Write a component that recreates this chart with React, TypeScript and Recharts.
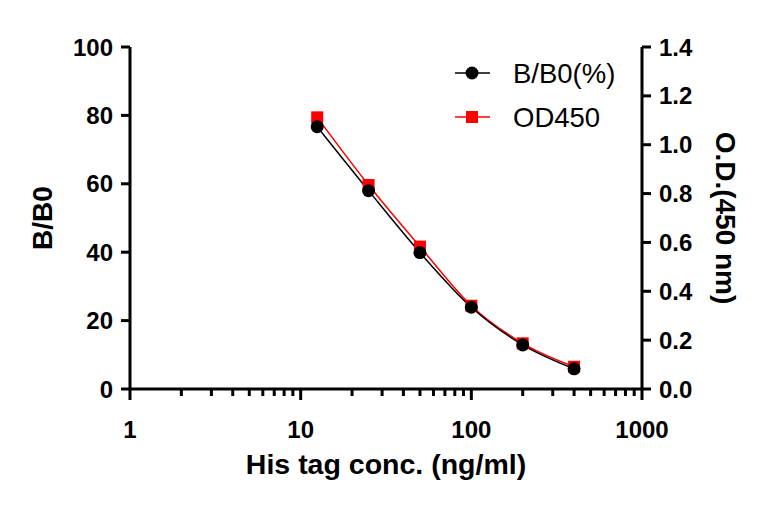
import React from "react";
import { LineChart, Line, XAxis, YAxis, Legend } from "recharts";

// His tag conc. (ng/ml)
const conc = [12.5, 25, 50, 100, 200, 400];
// B/B0 (%)
const bb0 = [76.7, 58.0, 39.9, 23.9, 12.9, 5.9];
// O.D. 450 nm
const od450 = [1.112, 0.835, 0.583, 0.341, 0.187, 0.091];

const xTicks = [
  1, 2, 3, 4, 5, 6, 7, 8, 9,
  10, 20, 30, 40, 50, 60, 70, 80, 90,
  100, 200, 300, 400, 500, 600, 700, 800, 900,
  1000,
];
const xMajor = [1, 10, 100, 1000];
const leftTicks = [0, 20, 40, 60, 80, 100];
const rightTicks = [0, 0.2, 0.4, 0.6, 0.8, 1.0, 1.2, 1.4];

const legendItems = [
  { name: "B/B0(%)", color: "#000000", shape: "circle" },
  { name: "OD450", color: "#ff0000", shape: "square" },
];

const data = conc.map((c, i) => ({ conc: c, bb0: bb0[i], od: od450[i] }));

const FONT = '"Liberation Sans", Arial, Helvetica, sans-serif';

const tickStyle = {
  fontSize: 24,
  fontWeight: "bold" as const,
  fill: "#000",
  fontFamily: FONT,
};

function XTick(props: any) {
  const { x, y, payload } = props;
  const v = payload.value;
  const major = xMajor.includes(v);
  return (
    <g>
      <line
        x1={x}
        x2={x}
        y1={y}
        y2={y + (major ? 11 : 7)}
        stroke="#000"
        strokeWidth={3}
      />
      {major && (
        <text x={x} y={y + 49} textAnchor="middle" {...tickStyle}>
          {v}
        </text>
      )}
    </g>
  );
}

function CircleDot(props: any) {
  const { cx, cy } = props;
  return <circle cx={cx} cy={cy} r={6.5} fill="#000" />;
}

function SquareDot(props: any) {
  const { cx, cy } = props;
  return <rect x={cx - 6} y={cy - 6} width={12} height={12} fill="#ff0000" />;
}

function renderLegend() {
  return (
    <svg width={220} height={90}>
      {legendItems.map((item, i) => {
        const cy = 20 + i * 44;
        return (
          <g key={item.name}>
            <line x1={0} x2={35} y1={cy} y2={cy} stroke={item.color} strokeWidth={1.5} />
            {item.shape === "circle" ? (
              <circle cx={17} cy={cy} r={6.5} fill={item.color} />
            ) : (
              <rect x={11} y={cy - 6} width={12} height={12} fill={item.color} />
            )}
            <text x={58} y={cy + 10} fontSize={27.5} fontFamily={FONT} fill="#000">
              {item.name}
            </text>
          </g>
        );
      })}
    </svg>
  );
}

export default function App() {
  return (
    <LineChart
      width={762}
      height={499}
      data={data}
      margin={{ top: 39, right: 0, left: 0, bottom: 0 }}
    >
      <XAxis
        dataKey="conc"
        type="number"
        scale="log"
        domain={[1, 1000]}
        ticks={xTicks}
        interval={0}
        height={118}
        tickSize={0}
        tickMargin={0}
        tickLine={false}
        axisLine={{ stroke: "#000", strokeWidth: 3 }}
        tick={<XTick />}
        label={{
          content: (p: any) => {
            const vb = p.viewBox;
            return (
              <text
                x={vb.x + vb.width / 2}
                y={vb.y + 85}
                textAnchor="middle"
                fontSize={28.5}
                fontWeight="bold"
                fontFamily={FONT}
                fill="#000"
              >
                His tag conc. (ng/ml)
              </text>
            );
          },
        }}
      />
      <YAxis
        yAxisId="left"
        orientation="left"
        width={122}
        domain={[0, 100]}
        ticks={leftTicks}
        interval={0}
        tickSize={9}
        tickMargin={8}
        axisLine={{ stroke: "#000", strokeWidth: 3 }}
        tickLine={{ stroke: "#000", strokeWidth: 3 }}
        tick={tickStyle}
        label={{
          content: (p: any) => {
            const vb = p.viewBox;
            const cx = vb.x + 34;
            const cy = vb.y + vb.height / 2;
            return (
              <text
                x={cx}
                y={cy}
                transform={`rotate(-90 ${cx} ${cy})`}
                textAnchor="middle"
                dominantBaseline="central"
                fontSize={28}
                fontWeight="bold"
                fontFamily={FONT}
                fill="#000"
              >
                B/B0
              </text>
            );
          },
        }}
      />
      <YAxis
        yAxisId="right"
        orientation="right"
        width={128}
        domain={[0, 1.4]}
        ticks={rightTicks}
        interval={0}
        tickSize={9}
        tickMargin={8}
        tickFormatter={(v: number) => v.toFixed(1)}
        axisLine={{ stroke: "#000", strokeWidth: 3 }}
        tickLine={{ stroke: "#000", strokeWidth: 3 }}
        tick={tickStyle}
        label={{
          content: (p: any) => {
            const vb = p.viewBox;
            const cx = vb.x + 83;
            const cy = vb.y + vb.height / 2;
            return (
              <text
                x={cx}
                y={cy}
                transform={`rotate(90 ${cx} ${cy})`}
                textAnchor="middle"
                dominantBaseline="central"
                fontSize={28}
                fontWeight="bold"
                fontFamily={FONT}
                fill="#000"
              >
                O.D.(450 nm)
              </text>
            );
          },
        }}
      />
      <Legend
        layout="vertical"
        align="center"
        verticalAlign="middle"
        content={renderLegend}
        wrapperStyle={{ left: 447, top: 45, width: 220, height: 90 }}
      />
      <Line
        yAxisId="right"
        type="monotone"
        dataKey="od"
        name="OD450"
        stroke="#ff0000"
        strokeWidth={1.5}
        dot={<SquareDot />}
        activeDot={false}
        isAnimationActive={false}
      />
      <Line
        yAxisId="left"
        type="monotone"
        dataKey="bb0"
        name="B/B0(%)"
        stroke="#000"
        strokeWidth={1.5}
        dot={<CircleDot />}
        activeDot={false}
        isAnimationActive={false}
      />
    </LineChart>
  );
}
